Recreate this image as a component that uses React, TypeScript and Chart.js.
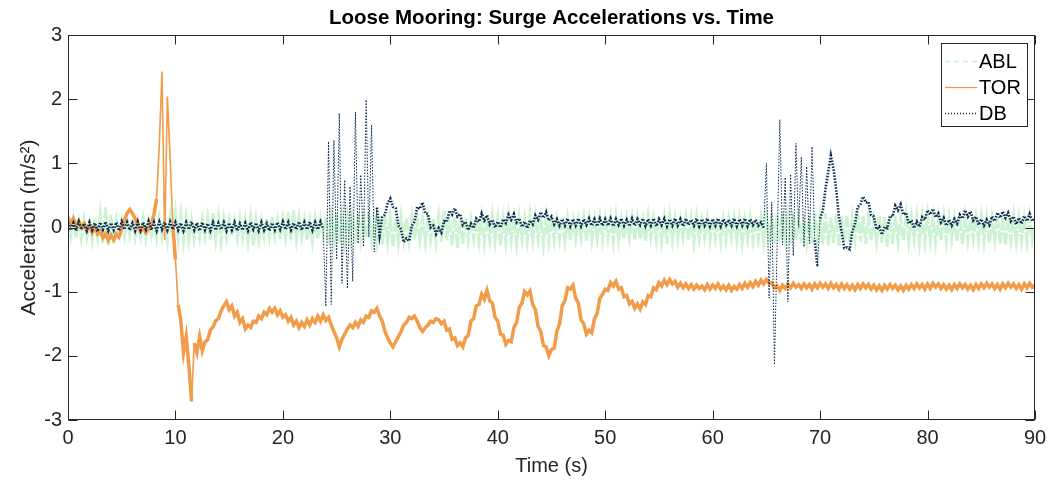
import React, { useEffect, useRef } from "react";
import { Chart, registerables } from "chart.js";

Chart.register(...registerables);

const TITLE = "Loose Mooring: Surge Accelerations vs. Time";
const X_LABEL = "Time (s)";
const Y_LABEL = "Acceleration (m/s²)";
const SERIES_NAMES = ["ABL", "TOR", "DB"];
const SAMPLE_STEP = 0.25; // seconds between samples
const X_MIN = 0;
const X_MAX = 90;
const X_STEP = 10;
const Y_MIN = -3;
const Y_MAX = 3;
const Y_STEP = 1;

const ABL = [
  0.12, -0.14, 0.14, -0.16, 0.10, -0.18, 0.12, -0.15, 0.08, -0.20, 0.14, -0.16, 0.22, -0.24, 0.32, -0.28, 0.20, -0.26, 0.12, -0.16,
  0.10, -0.14, 0.14, -0.12, 0.12, -0.16, 0.08, -0.14, 0.14, -0.18, 0.10, -0.12, 0.12, -0.16, 0.14, -0.14, 0.16, -0.20, 0.18, -0.16,
  0.24, -0.18, 0.20, -0.22, 0.16, -0.20, 0.12, -0.18, 0.10, -0.16, 0.14, -0.14, 0.16, -0.20, 0.24, -0.18, 0.18, -0.22, 0.14, -0.16,
  0.12, -0.14, 0.10, -0.18, 0.14, -0.16, 0.12, -0.22, 0.16, -0.28, 0.12, -0.20, 0.10, -0.14, 0.14, -0.16, 0.18, -0.14, 0.12, -0.18,
  0.14, -0.16, 0.24, -0.20, 0.28, -0.18, 0.16, -0.16, 0.12, -0.20, 0.10, -0.22, 0.14, -0.18, 0.12, -0.14, 0.16, -0.26, 0.18, -0.20,
  0.22, -0.24, 0.18, -0.22, 0.20, -0.20, 0.16, -0.24, 0.22, -0.18, 0.18, -0.16, 0.24, -0.20, 0.16, -0.22, 0.18, -0.26, 0.20, -0.22,
  0.16, -0.30, 0.14, -0.24, 0.18, -0.20, 0.14, -0.22, 0.16, -0.18, 0.12, -0.20, 0.14, -0.22, 0.16, -0.18, 0.14, -0.24, 0.18, -0.22,
  0.26, -0.20, 0.20, -0.28, 0.16, -0.32, 0.14, -0.26, 0.16, -0.20, 0.12, -0.18, 0.14, -0.22, 0.16, -0.24, 0.14, -0.20, 0.18, -0.22,
  0.16, -0.28, 0.14, -0.24, 0.18, -0.20, 0.14, -0.26, 0.16, -0.18, 0.14, -0.22, 0.20, -0.20, 0.16, -0.18, 0.14, -0.26, 0.16, -0.22,
  0.14, -0.20, 0.12, -0.18, 0.16, -0.22, 0.14, -0.20, 0.12, -0.18, 0.14, -0.16, 0.16, -0.22, 0.14, -0.20, 0.12, -0.18, 0.16, -0.20,
  0.14, -0.16, 0.16, -0.22, 0.18, -0.20, 0.12, -0.18, 0.14, -0.16, 0.16, -0.20, 0.14, -0.18, 0.12, -0.22, 0.18, -0.16, 0.14, -0.20,
  0.16, -0.22, 0.14, -0.26, 0.18, -0.20, 0.14, -0.18, 0.12, -0.16, 0.16, -0.20, 0.14, -0.24, 0.16, -0.18, 0.12, -0.16, 0.14, -0.20,
  0.16, -0.18, 0.14, -0.22, 0.12, -0.20, 0.14, -0.16, 0.16, -0.20, 0.14, -0.24, 0.12, -0.18, 0.16, -0.20, 0.14, -0.18, 0.16, -0.22,
  0.18, -0.24, 0.22, -0.26, 0.20, -0.22, 0.24, -0.20, 0.18, -0.26, 0.22, -0.20, 0.16, -0.24, 0.20, -0.22, 0.18, -0.26, 0.22, -0.20,
  0.18, -0.26, 0.22, -0.28, 0.16, -0.24, 0.20, -0.30, 0.18, -0.22, 0.20, -0.24, 0.16, -0.20, 0.22, -0.22, 0.18, -0.26, 0.16, -0.20,
  0.14, -0.22, 0.18, -0.24, 0.16, -0.30, 0.14, -0.26, 0.18, -0.22, 0.16, -0.20, 0.20, -0.22, 0.16, -0.18, 0.18, -0.24, 0.16, -0.22,
  0.20, -0.20, 0.16, -0.24, 0.14, -0.20, 0.18, -0.22, 0.16, -0.18, 0.14, -0.22, 0.18, -0.26, 0.16, -0.20, 0.14, -0.18, 0.16, -0.20,
  0.18, -0.22, 0.16, -0.24, 0.14, -0.20, 0.18, -0.26, 0.16, -0.28, 0.14, -0.20, 0.18, -0.22, 0.16, -0.20, 0.14, -0.22, 0.16, -0.18,
  0.06,
];

const TOR = [
  0.16, 0.06, 0.14, 0.04, 0.10, 0.00, 0.06, -0.04, 0.02, -0.08, 0.00, -0.10, -0.06, -0.16, -0.10, -0.20, -0.12, -0.19, -0.10, -0.15,
  -0.02, 0.12, 0.22, 0.28, 0.22, 0.14, 0.02, -0.06, 0.00, -0.08, -0.02, 0.05, 0.20, 0.45, 1.30, 2.43, -0.20, 2.04, 1.10, 0.05,
  -0.50, -1.20, -1.45, -1.95, -1.70, -2.15, -2.71, -1.80, -1.95, -1.70, -1.92, -1.78, -1.75, -1.60, -1.55, -1.45, -1.42, -1.30, -1.22, -1.16,
  -1.28, -1.22, -1.38, -1.32, -1.48, -1.42, -1.58, -1.52, -1.56, -1.46, -1.48, -1.38, -1.42, -1.32, -1.36, -1.26, -1.32, -1.26, -1.36, -1.30,
  -1.40, -1.36, -1.46, -1.40, -1.52, -1.46, -1.56, -1.48, -1.54, -1.44, -1.52, -1.42, -1.48, -1.38, -1.46, -1.36, -1.45, -1.40, -1.52, -1.62,
  -1.72, -1.86, -1.74, -1.66, -1.58, -1.52, -1.56, -1.48, -1.54, -1.44, -1.48, -1.38, -1.40, -1.30, -1.32, -1.26, -1.38, -1.46, -1.62, -1.72,
  -1.80, -1.86, -1.78, -1.70, -1.62, -1.52, -1.48, -1.40, -1.42, -1.38, -1.46, -1.56, -1.62, -1.56, -1.52, -1.46, -1.48, -1.42, -1.44, -1.50,
  -1.46, -1.60, -1.58, -1.74, -1.72, -1.84, -1.80, -1.86, -1.72, -1.68, -1.46, -1.42, -1.22, -1.20, -1.04, -1.12, -0.98, -1.14, -1.18, -1.40,
  -1.46, -1.66, -1.68, -1.82, -1.76, -1.78, -1.56, -1.48, -1.24, -1.18, -1.00, -1.05, -0.99, -1.20, -1.28, -1.54, -1.62, -1.84, -1.86, -2.00,
  -1.90, -1.88, -1.62, -1.50, -1.22, -1.14, -0.94, -0.96, -0.90, -1.10, -1.18, -1.44, -1.50, -1.66, -1.60, -1.64, -1.42, -1.34, -1.10, -1.04,
  -0.96, -0.98, -0.86, -0.91, -0.84, -0.96, -0.94, -1.08, -1.06, -1.19, -1.15, -1.26, -1.19, -1.27, -1.16, -1.20, -1.06, -1.08, -0.94, -0.97,
  -0.86, -0.91, -0.82, -0.89, -0.81, -0.88, -0.84, -0.93, -0.87, -0.94, -0.88, -0.95, -0.89, -0.96, -0.90, -0.95, -0.91, -0.97, -0.89, -0.96,
  -0.90, -0.95, -0.88, -0.96, -0.91, -0.97, -0.90, -0.98, -0.92, -0.96, -0.89, -0.95, -0.87, -0.93, -0.86, -0.92, -0.84, -0.90, -0.82, -0.88,
  -0.81, -0.87, -0.86, -0.94, -0.91, -0.98, -0.90, -0.95, -0.88, -0.94, -0.87, -0.93, -0.89, -0.95, -0.88, -0.94, -0.89, -0.96, -0.88, -0.94,
  -0.87, -0.93, -0.88, -0.95, -0.87, -0.94, -0.89, -0.96, -0.88, -0.95, -0.89, -0.96, -0.90, -0.97, -0.89, -0.95, -0.88, -0.94, -0.89, -0.96,
  -0.90, -0.97, -0.91, -0.98, -0.90, -0.96, -0.89, -0.95, -0.90, -0.97, -0.91, -0.98, -0.90, -0.96, -0.89, -0.95, -0.88, -0.94, -0.89, -0.96,
  -0.88, -0.95, -0.87, -0.93, -0.88, -0.95, -0.89, -0.96, -0.90, -0.97, -0.89, -0.95, -0.88, -0.94, -0.89, -0.96, -0.90, -0.97, -0.89, -0.95,
  -0.88, -0.94, -0.87, -0.93, -0.88, -0.95, -0.89, -0.96, -0.88, -0.94, -0.87, -0.93, -0.88, -0.95, -0.89, -0.96, -0.88, -0.94, -0.87, -0.93,
  -0.90,
];

const DB = [
  0.08, -0.04, 0.07, -0.05, 0.09, -0.03, 0.06, -0.05, 0.08, -0.04, 0.07, -0.06, 0.08, -0.03, 0.09, -0.05, 0.07, -0.04, 0.08, -0.05,
  0.09, -0.03, 0.08, -0.04, 0.07, -0.05, 0.09, -0.04, 0.08, -0.03, 0.10, -0.04, 0.08, -0.05, 0.09, -0.03, 0.08, -0.04, 0.09, -0.03,
  0.08, -0.04, 0.07, -0.05, 0.08, -0.03, 0.09, -0.04, 0.07, -0.05, 0.08, -0.04, 0.06, -0.05, 0.08, -0.04, 0.07, -0.03, 0.08, -0.05,
  0.07, -0.04, 0.08, -0.05, 0.06, -0.04, 0.07, -0.05, 0.08, -0.03, 0.07, -0.05, 0.08, -0.04, 0.06, -0.05, 0.07, -0.04, 0.08, -0.03,
  0.09, -0.03, 0.08, -0.04, 0.07, -0.03, 0.09, -0.04, 0.08, -0.03, 0.09, -0.04, 0.08, -0.03, 0.09, -0.02, -1.23, 1.34, -1.20, 1.36,
  -0.50, 1.78, -0.87, 0.74, -0.95, 0.64, -0.84, 1.80, -0.25, 0.82, -0.30, 1.99, -0.15, 1.60, -0.38, 0.31, -0.12, 0.16, 0.20, 0.38,
  0.45, 0.32, 0.30, 0.03, -0.03, -0.23, -0.17, -0.21, 0.03, 0.09, 0.32, 0.29, 0.39, 0.22, 0.21, 0.00, 0.03, -0.10, -0.01, -0.08,
  0.10, 0.09, 0.26, 0.20, 0.30, 0.17, 0.21, 0.04, 0.09, -0.04, 0.06, -0.01, 0.14, 0.09, 0.22, 0.11, 0.19, 0.05, 0.12, 0.00,
  0.09, 0.00, 0.13, 0.07, 0.20, 0.12, 0.21, 0.08, 0.14, 0.01, 0.09, -0.01, 0.11, 0.05, 0.19, 0.12, 0.24, 0.15, 0.24, 0.11,
  0.17, 0.05, 0.13, 0.03, 0.13, 0.03, 0.14, 0.02, 0.13, 0.03, 0.14, 0.02, 0.13, 0.04, 0.14, 0.03, 0.13, 0.02, 0.14, 0.03,
  0.13, 0.03, 0.14, 0.02, 0.13, 0.04, 0.14, 0.03, 0.12, 0.02, 0.14, 0.03, 0.13, 0.04, 0.14, 0.02, 0.13, 0.03, 0.14, 0.02,
  0.13, 0.04, 0.14, 0.02, 0.13, 0.03, 0.14, 0.03, 0.13, 0.02, 0.14, 0.04, 0.12, 0.03, 0.14, 0.02, 0.13, 0.03, 0.14, 0.02,
  0.13, 0.03, 0.14, 0.02, 0.13, 0.04, 0.12, 0.03, 0.14, 0.02, 0.13, 0.03, 0.14, 0.02, 0.13, 0.04, 0.12, 0.03, 0.08, 0.00,
  1.00, -1.10, 0.40, -2.14, -0.26, 1.68, -0.27, 0.78, -1.16, 0.83, -0.44, 1.31, 0.00, 1.10, -0.30, 0.95, -0.25, 1.26, -0.20, -0.61,
  0.14, 0.26, 0.60, 0.86, 1.12, 0.91, 0.59, 0.16, -0.06, -0.32, -0.31, -0.34, -0.06, 0.06, 0.32, 0.36, 0.48, 0.39, 0.40, 0.19,
  0.17, -0.03, 0.01, -0.11, 0.01, -0.01, 0.18, 0.17, 0.34, 0.27, 0.36, 0.20, 0.23, 0.06, 0.11, -0.01, 0.09, 0.01, 0.16, 0.12,
  0.27, 0.20, 0.29, 0.16, 0.22, 0.08, 0.15, 0.03, 0.12, 0.03, 0.13, 0.06, 0.20, 0.14, 0.27, 0.17, 0.25, 0.11, 0.17, 0.04,
  0.13, 0.03, 0.12, 0.04, 0.17, 0.10, 0.23, 0.15, 0.25, 0.15, 0.23, 0.10, 0.17, 0.05, 0.15, 0.06, 0.18, 0.10, 0.21, 0.10,
  0.14,
];

const COLORS = { ABL: "#cdf2d5", TOR: "#f29b48", DB: "#0b2a4d" };
const LEGEND_DASH: Record<string, number[]> = { ABL: [5, 4], TOR: [], DB: [1, 2] };
const AXIS_COLOR = "#262626";
const FONT = "'Liberation Sans', Arial, Helvetica, sans-serif";

const toPoints = (values: number[]) =>
  values.map((v, i) => ({ x: i * SAMPLE_STEP, y: v }));

// thinner strokes where a segment jumps far (burst spikes), thicker in the noisy bands
const jumpWidth = (thin: number, thick: number) => (ctx: any) =>
  Math.abs(ctx.p1.parsed.y - ctx.p0.parsed.y) > 0.6 ? thin : thick;

const frameAndLegend = {
  id: "frameAndLegend",
  afterDraw(chart: any) {
    const { ctx, chartArea: a, scales } = chart;
    const xs = scales.x;
    const ys = scales.y;
    const L = 9;
    const left = Math.round(a.left) + 0.5;
    const right = Math.round(a.right) - 0.5;
    const top = Math.round(a.top) + 0.5;
    const bottom = Math.round(a.bottom) - 0.5;
    ctx.save();

    // title centred over the axes
    ctx.fillStyle = "#000000";
    ctx.font = `bold 20.5px ${FONT}`;
    ctx.textAlign = "center";
    ctx.textBaseline = "middle";
    ctx.fillText(TITLE, (a.left + a.right) / 2, 18);

    ctx.strokeStyle = AXIS_COLOR;
    ctx.lineWidth = 1;
    ctx.setLineDash([]);
    ctx.beginPath();
    xs.ticks.forEach((t: any) => {
      const px = Math.round(xs.getPixelForValue(t.value)) + 0.5;
      ctx.moveTo(px, bottom);
      ctx.lineTo(px, bottom - L);
      ctx.moveTo(px, top);
      ctx.lineTo(px, top + L);
    });
    ys.ticks.forEach((t: any) => {
      const py = Math.round(ys.getPixelForValue(t.value)) + 0.5;
      ctx.moveTo(left, py);
      ctx.lineTo(left + L, py);
      ctx.moveTo(right, py);
      ctx.lineTo(right - L, py);
    });
    ctx.stroke();
    ctx.strokeRect(left, top, right - left, bottom - top);

    // legend box (inside the axes, north-east)
    const bx = 941.5, by = 43.5, bw = 86, bh = 83;
    ctx.fillStyle = "#ffffff";
    ctx.fillRect(bx, by, bw, bh);
    ctx.strokeStyle = AXIS_COLOR;
    ctx.strokeRect(bx, by, bw, bh);
    ctx.font = `20px ${FONT}`;
    ctx.textBaseline = "middle";
    ctx.textAlign = "left";
    chart.data.datasets.forEach((ds: any, i: number) => {
      const cy = 61 + i * 26;
      ctx.beginPath();
      ctx.strokeStyle = ds.borderColor;
      ctx.lineWidth = 1.3;
      ctx.setLineDash(LEGEND_DASH[ds.label] || []);
      ctx.moveTo(945, cy + 0.5);
      ctx.lineTo(977, cy + 0.5);
      ctx.stroke();
      ctx.setLineDash([]);
      ctx.fillStyle = "#000000";
      ctx.fillText(ds.label, 979, cy + 1);
    });
    ctx.restore();
  },
};

export default function App() {
  const canvasRef = useRef<HTMLCanvasElement | null>(null);

  useEffect(() => {
    const canvas = canvasRef.current;
    if (!canvas) return;
    const chart = new Chart(canvas, {
      type: "line",
      data: {
        datasets: [
          {
            label: SERIES_NAMES[0],
            data: toPoints(ABL),
            borderColor: COLORS.ABL,
            borderWidth: 3,
            borderDash: [12, 2],
            pointRadius: 0,
            tension: 0,
            order: 3,
          },
          {
            label: SERIES_NAMES[1],
            data: toPoints(TOR),
            borderColor: COLORS.TOR,
            borderWidth: 3.5,
            pointRadius: 0,
            tension: 0,
            order: 2,
            segment: { borderWidth: jumpWidth(1.6, 3.5) },
          },
          {
            label: SERIES_NAMES[2],
            data: toPoints(DB),
            borderColor: COLORS.DB,
            borderWidth: 2.6,
            borderDash: [1.5, 1.5],
            pointRadius: 0,
            tension: 0,
            order: 1,
            segment: { borderWidth: jumpWidth(1, 2.6) },
          },
        ],
      },
      options: {
        responsive: false,
        animation: false,
        events: [],
        layout: { padding: { left: 0, right: 24, top: 35, bottom: 0 } },
        plugins: {
          legend: { display: false },
          tooltip: { enabled: false },
          title: { display: false },
        },
        scales: {
          x: {
            type: "linear",
            min: X_MIN,
            max: X_MAX,
            afterFit: (s: any) => {
              s.height = 65;
            },
            grid: { display: false, drawTicks: false },
            border: { display: false },
            ticks: {
              stepSize: X_STEP,
              color: AXIS_COLOR,
              font: { family: FONT, size: 20 },
              padding: 6,
              maxRotation: 0,
            },
            title: {
              display: true,
              text: X_LABEL,
              color: AXIS_COLOR,
              font: { family: FONT, size: 20 },
              padding: { top: 0, bottom: 7 },
            },
          },
          y: {
            type: "linear",
            min: Y_MIN,
            max: Y_MAX,
            afterFit: (s: any) => {
              s.width = 68;
            },
            grid: { display: false, drawTicks: false },
            border: { display: false },
            ticks: {
              stepSize: Y_STEP,
              color: AXIS_COLOR,
              font: { family: FONT, size: 20 },
              padding: 6,
            },
            title: {
              display: true,
              text: Y_LABEL,
              color: AXIS_COLOR,
              font: { family: FONT, size: 21 },
              padding: { top: 17, bottom: 0 },
            },
          },
        },
      },
      plugins: [frameAndLegend],
    });
    return () => chart.destroy();
  }, []);

  return (
    <div style={{ position: "fixed", left: 0, top: 0, width: 1059, height: 485, background: "#ffffff" }}>
      <canvas ref={canvasRef} width={1059} height={485} />
    </div>
  );
}
